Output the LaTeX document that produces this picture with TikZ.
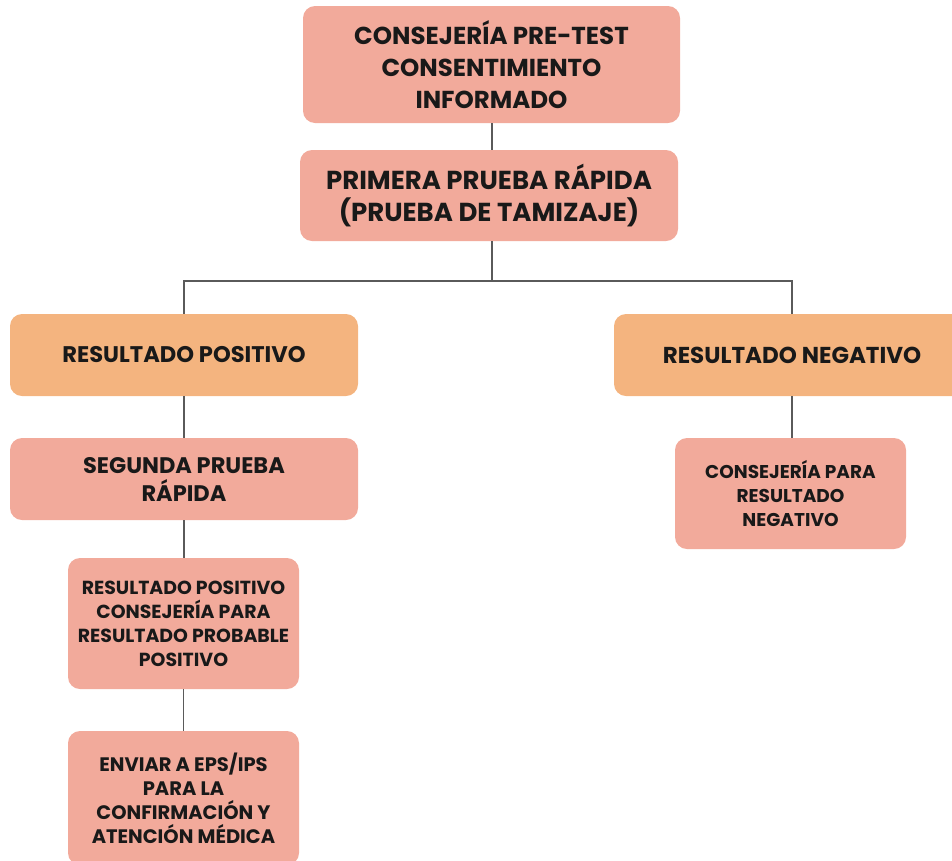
\documentclass[tikz,border=0pt]{standalone}
\usepackage{fontspec}
\setmainfont{Poppins}
\definecolor{pinkbox}{HTML}{F2AA9B}
\definecolor{orangebox}{HTML}{F4B47F}
\definecolor{linegray}{HTML}{5A5A5A}
\begin{document}
\begin{tikzpicture}[x=1pt,y=1pt,
  box/.style={rectangle, rounded corners=12pt, draw=none, align=center, inner sep=0pt, anchor=center, text=black!90},
  pk/.style={box, fill=pinkbox},
  og/.style={box, fill=orangebox},
  conn/.style={draw=linegray, line width=1.2pt}]
\useasboundingbox (0,0) rectangle (952,-860);
\clip (0,0) rectangle (952,-860);
\node[pk, font=\fontsize{24.5}{32}\selectfont\bfseries, minimum width=377, minimum height=117] (b1) at (491.5,-64.5) {CONSEJERÍA PRE-TEST\\CONSENTIMIENTO\\INFORMADO};
\node[pk, font=\fontsize{26}{32}\selectfont\bfseries, minimum width=378, minimum height=91] (b2) at (489,-195.5) {PRIMERA PRUEBA RÁPIDA\\(PRUEBA DE TAMIZAJE)};
\node[og, font=\fontsize{22.6}{28}\selectfont\bfseries, minimum width=348, minimum height=82] (rp) at (184,-355) {RESULTADO POSITIVO};
\node[og, font=\fontsize{23}{28}\selectfont\bfseries, minimum width=356, minimum height=82] (rn) at (792,-355) {RESULTADO NEGATIVO};
\node[pk, font=\fontsize{22.5}{28}\selectfont\bfseries, minimum width=348, minimum height=82] (spr) at (184,-479) {SEGUNDA PRUEBA\\RÁPIDA};
\node[pk, font=\fontsize{18.5}{24}\selectfont\bfseries, minimum width=231, minimum height=111] (cprn) at (790.5,-493.5) {CONSEJERÍA PARA\\RESULTADO\\NEGATIVO};
\node[pk, font=\fontsize{18.9}{24}\selectfont\bfseries, minimum width=231, minimum height=131] (rpc) at (183.5,-623.5) {RESULTADO POSITIVO\\CONSEJERÍA PARA\\RESULTADO PROBABLE\\POSITIVO};
\node[pk, font=\fontsize{19.5}{24}\selectfont\bfseries, minimum width=231, minimum height=134] (env) at (183.5,-798) {ENVIAR A EPS/IPS\\PARA LA\\CONFIRMACIÓN Y\\ATENCIÓN MÉDICA};
\coordinate (j) at (492,-281);
\draw[conn] ([xshift=0.5pt]b1.south) -- ([xshift=0.5pt]b1.south |- b2.north);
\draw[conn] (j |- b2.south) -- (j);
\draw[conn] (rp.north) |- (j) -| (rn.north);
\draw[conn] (rp.south) -- (spr.north);
\draw[conn] (rn.south) -- (rn.south |- cprn.north);
\draw[conn] (spr.south) -- (spr.south |- rpc.north);
\draw[conn] (rpc.south) -- (rpc.south |- env.north);
\end{tikzpicture}
\end{document}
